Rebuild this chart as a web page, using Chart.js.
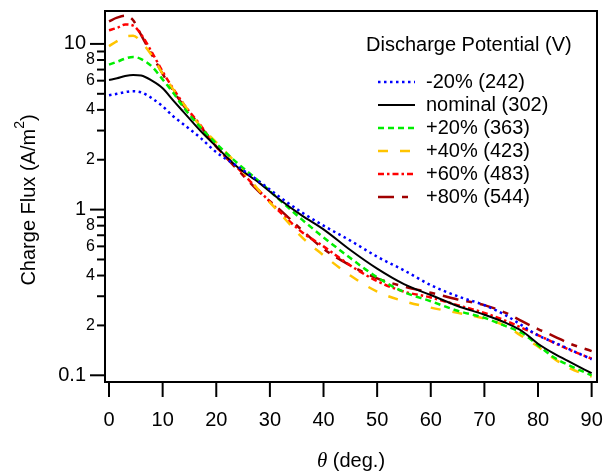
<!DOCTYPE html>
<html>
<head>
<meta charset="utf-8">
<script src="https://cdn.jsdelivr.net/npm/chart.js@4"></script>
<style>
  html, body { margin: 0; padding: 0; background: #fff; }
  #wrap { width: 605px; height: 473px; }
</style>
</head>
<body>
<div id="wrap"><canvas id="fluxChart"></canvas></div>
<script>
// polar angle (deg.)
const theta = [0, 1.5, 3, 4.5, 6, 8, 10, 12, 14, 17, 20, 24, 28, 32, 36, 40, 45, 50, 55, 60, 65, 70, 74, 77, 80, 83, 86, 90];

// charge flux (A/m^2) for each discharge potential
const fluxMinus20 = [4.9, 5.0, 5.12, 5.18, 5.1, 4.7, 4.2, 3.65, 3.25, 2.72, 2.22, 1.82, 1.48, 1.18, 0.96, 0.80, 0.65, 0.52, 0.43, 0.35, 0.30, 0.265, 0.23, 0.20, 0.174, 0.158, 0.143, 0.125];
const fluxNominal = [6.05, 6.2, 6.4, 6.5, 6.45, 6.0, 5.4, 4.55, 3.85, 3.0, 2.4, 1.8, 1.45, 1.14, 0.92, 0.76, 0.57, 0.44, 0.355, 0.305, 0.262, 0.232, 0.207, 0.185, 0.155, 0.135, 0.12, 0.103];
const fluxPlus20 = [7.5, 7.8, 8.15, 8.35, 8.1, 7.3, 6.1, 5.05, 4.1, 3.15, 2.5, 1.9, 1.48, 1.13, 0.87, 0.68, 0.51, 0.39, 0.318, 0.28, 0.245, 0.222, 0.198, 0.18, 0.152, 0.128, 0.114, 0.10];
const fluxPlus40 = [9.7, 10.4, 11.1, 11.2, 10.3, 8.5, 6.6, 5.3, 4.3, 3.2, 2.55, 1.86, 1.3, 0.94, 0.68, 0.53, 0.40, 0.32, 0.28, 0.256, 0.238, 0.22, 0.198, 0.172, 0.149, 0.126, 0.11, 0.098];
const fluxPlus60 = [12.1, 12.5, 13.1, 12.9, 11.4, 8.9, 6.8, 5.35, 4.3, 3.25, 2.4, 1.78, 1.3, 0.96, 0.73, 0.60, 0.46, 0.37, 0.32, 0.295, 0.265, 0.238, 0.213, 0.193, 0.175, 0.157, 0.142, 0.126];
const fluxPlus80 = [13.7, 14.4, 14.8, 13.9, 11.3, 8.6, 6.6, 5.2, 4.2, 3.2, 2.4, 1.74, 1.28, 0.99, 0.75, 0.58, 0.46, 0.385, 0.343, 0.315, 0.287, 0.265, 0.238, 0.212, 0.19, 0.172, 0.155, 0.14];

const seriesLabels = ['-20% (242)', 'nominal (302)', '+20% (363)', '+40% (423)', '+60% (483)', '+80% (544)'];
const legendTitle = 'Discharge Potential (V)';

// axis ticks
const thetaTicks = [0, 10, 20, 30, 40, 50, 60, 70, 80, 90];
const fluxMajorTicks = [0.1, 1, 10];
const fluxMinorTicks = [0.2, 0.3, 0.4, 0.5, 0.6, 0.7, 0.8, 0.9, 2, 3, 4, 5, 6, 7, 8, 9];
const fluxMinorLabels = ['2', '', '4', '', '6', '', '8', '', '2', '', '4', '', '6', '', '8', ''];

const FONT = '"Liberation Sans", Arial, Helvetica, sans-serif';

const styles = [
    { color: '#0000ff', dash: [2.5, 3.5], width: 2.5 },
    { color: '#000000', dash: [], width: 2 },
    { color: '#00ee00', dash: [6, 4], width: 2.5 },
    { color: '#ffc400', dash: [10, 12], width: 2.5 },
    { color: '#ff0000', dash: [6, 3, 2.5, 3], width: 2.5 },
    { color: '#a00000', dash: [16, 8, 6, 8], width: 2.5 },
];

const allFlux = [fluxMinus20, fluxNominal, fluxPlus20, fluxPlus40, fluxPlus60, fluxPlus80];

const datasets = allFlux.map((vals, i) => ({
    label: seriesLabels[i],
    data: vals.map((v, j) => ({ x: theta[j], y: v })),
    borderColor: styles[i].color,
    borderWidth: styles[i].width,
    borderDash: styles[i].dash,
    pointRadius: 0,
    fill: false,
    cubicInterpolationMode: 'monotone',
}));

// frame, ticks, axis titles and legend
const decorPlugin = {
    id: 'decor',
    afterDraw(chart) {
        const { ctx, chartArea: a, scales: { x, y } } = chart;
        ctx.save();
        ctx.strokeStyle = '#000';
        ctx.fillStyle = '#000';
        ctx.lineWidth = 2;
        ctx.setLineDash([]);
        ctx.strokeRect(a.left, a.top, a.right - a.left, a.bottom - a.top);

        const seg = (x1, y1, x2, y2) => {
            ctx.beginPath(); ctx.moveTo(x1, y1); ctx.lineTo(x2, y2); ctx.stroke();
        };

        // x ticks
        ctx.font = '20px ' + FONT;
        ctx.textAlign = 'center';
        ctx.textBaseline = 'middle';
        thetaTicks.forEach(t => {
            const px = x.getPixelForValue(t);
            seg(px, a.bottom, px, a.bottom + 15);
            ctx.fillText(String(t), px, 420);
        });

        // y ticks
        ctx.textAlign = 'right';
        fluxMajorTicks.forEach(v => {
            const py = y.getPixelForValue(v);
            seg(a.left - 15, py, a.left, py);
            ctx.font = '20px ' + FONT;
            ctx.fillText(String(v), a.left - 19, py);
        });
        fluxMinorTicks.forEach((v, i) => {
            const py = y.getPixelForValue(v);
            seg(a.left - 8, py, a.left, py);
            if (fluxMinorLabels[i]) {
                ctx.font = '16px ' + FONT;
                ctx.fillText(fluxMinorLabels[i], a.left - 10, py);
            }
        });

        // x title
        ctx.textBaseline = 'middle';
        ctx.textAlign = 'left';
        const cx = (a.left + a.right) / 2;
        ctx.font = 'italic 21px "Liberation Serif", serif';
        const thW = ctx.measureText('θ').width;
        ctx.font = '20px ' + FONT;
        const restW = ctx.measureText(' (deg.)').width;
        const sx = cx - (thW + restW) / 2;
        ctx.font = 'italic 21px "Liberation Serif", serif';
        ctx.fillText('θ', sx, 461);
        ctx.font = '20px ' + FONT;
        ctx.fillText(' (deg.)', sx + thW, 461);

        // y title with superscript
        ctx.save();
        ctx.translate(29, 200);
        ctx.rotate(-Math.PI / 2);
        const p1 = 'Charge Flux (A/m', p2 = '2', p3 = ')';
        ctx.font = '20px ' + FONT;
        const w1 = ctx.measureText(p1).width, w3 = ctx.measureText(p3).width;
        ctx.font = '14px ' + FONT;
        const w2 = ctx.measureText(p2).width;
        const tx = -(w1 + w2 + w3) / 2;
        ctx.font = '20px ' + FONT;
        ctx.fillText(p1, tx, 0);
        ctx.font = '14px ' + FONT;
        ctx.fillText(p2, tx + w1, -9);
        ctx.font = '20px ' + FONT;
        ctx.fillText(p3, tx + w1 + w2, 0);
        ctx.restore();

        // legend
        ctx.font = '20px ' + FONT;
        ctx.textAlign = 'left';
        ctx.fillText(legendTitle, 366, 45);
        chart.data.datasets.forEach((ds, i) => {
            const ly = 82 + i * 23;
            ctx.strokeStyle = ds.borderColor;
            ctx.lineWidth = ds.borderWidth;
            ctx.setLineDash(ds.borderDash);
            seg(378, ly, 415, ly);
            ctx.setLineDash([]);
            ctx.fillStyle = '#000';
            ctx.fillText(ds.label, 426, ly);
        });
        ctx.restore();
    }
};

new Chart(document.getElementById('fluxChart'), {
    type: 'line',
    data: { datasets },
    options: {
        responsive: true,
        maintainAspectRatio: false,
        animation: false,
        devicePixelRatio: 1,
        layout: { padding: { left: 0, right: 8, top: 11, bottom: 0 } },
        scales: {
            x: {
                type: 'linear',
                min: -0.75,
                max: 91,
                grid: { display: false },
                border: { display: false },
                ticks: { display: false },
                afterFit: s => { s.height = 91; },
            },
            y: {
                type: 'logarithmic',
                min: 0.0911,
                max: 15.8,
                grid: { display: false },
                border: { display: false },
                ticks: { display: false },
                afterFit: s => { s.width = 105; },
            },
        },
        plugins: {
            legend: { display: false },
            tooltip: { enabled: false },
        },
    },
    plugins: [decorPlugin],
});
</script>
</body>
</html>
